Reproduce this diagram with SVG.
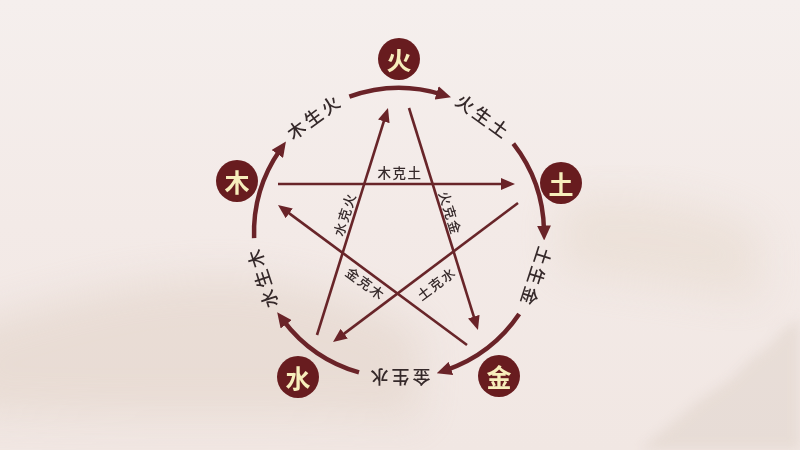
<svg xmlns="http://www.w3.org/2000/svg" width="800" height="450" viewBox="0 0 800 450">
  <defs>
    <linearGradient id="bg" x1="0" y1="0" x2="0" y2="1">
      <stop offset="0" stop-color="#f5efed"/>
      <stop offset="0.5" stop-color="#f3eae7"/>
      <stop offset="1" stop-color="#f1e7e3"/>
    </linearGradient>
    <filter id="blur" x="-30%" y="-30%" width="160%" height="160%">
      <feGaussianBlur stdDeviation="20"/>
    </filter>
    <filter id="blur2" x="-30%" y="-30%" width="160%" height="160%">
      <feGaussianBlur stdDeviation="6"/>
    </filter>
    <marker id="arcHead" markerUnits="userSpaceOnUse" markerWidth="15" markerHeight="14" refX="5" refY="7" orient="auto">
      <path d="M0,0 L15,7 L0,14 z" fill="#6a2328"/>
    </marker>
    <marker id="lineHead" markerUnits="userSpaceOnUse" markerWidth="14" markerHeight="12" refX="5" refY="6" orient="auto">
      <path d="M0,0 L14,6 L0,12 z" fill="#6a2328"/>
    </marker>
  </defs>
  <style>
    .ring { fill: none; stroke: #6a2328; stroke-width: 4.5; marker-end: url(#arcHead); }
    .star { fill: none; stroke: #682529; stroke-width: 2.6; marker-end: url(#lineHead); }
    .node { fill: #681c1f; }
    .ntext { font-family: "Noto Sans CJK SC", "Noto Sans", sans-serif; font-size: 25px; font-weight: 700; fill: #f7eebc; text-anchor: middle; dominant-baseline: central; }
    .rlabel { font-family: "Noto Sans CJK SC", "Noto Sans", sans-serif; font-size: 18px; font-weight: 500; fill: #35292a; text-anchor: middle; dominant-baseline: central; letter-spacing: 3px; }
    .slabel { font-family: "Noto Sans CJK SC", "Noto Sans", sans-serif; font-size: 13.5px; font-weight: 500; fill: #35292a; text-anchor: middle; dominant-baseline: central; letter-spacing: 1.5px; }
  </style>

  <!-- background -->
  <rect x="0" y="0" width="800" height="450" fill="url(#bg)"/>
  <g opacity="0.4">
    <path d="M-40,330 C60,300 160,270 260,280 C330,290 380,310 420,330 L420,420 C300,410 120,420 -40,410 z" fill="#dccbbd" filter="url(#blur)"/>
    <path d="M560,200 C620,190 700,200 760,230 L760,300 C700,290 620,280 560,270 z" fill="#e3d5c6" filter="url(#blur)"/>
    <path d="M800,320 L785,328 L770,345 L750,360 L730,380 L700,400 L670,425 L640,450 L800,450 z" fill="#dacdc2" filter="url(#blur2)"/>
  </g>

  <!-- connectors -->
  <g id="connectors">
    <!-- generating cycle (ring arcs) -->
    <path class="ring" d="M349.4,96.7 A145,145 0 0 1 441.4,94.3"/>
    <path class="ring" d="M513.3,143.7 A145,145 0 0 1 544.0,230.5"/>
    <path class="ring" d="M519.2,314.1 A145,145 0 0 1 446.2,370.1"/>
    <path class="ring" d="M359.0,372.4 A145,145 0 0 1 283.2,320.3"/>
    <path class="ring" d="M254.1,238.1 A145,145 0 0 1 280.2,149.8"/>

    <!-- controlling cycle (star lines) -->
    <path class="star" d="M278,184 L506,184"/>
    <path class="star" d="M409,108 L475.3,321.4"/>
    <path class="star" d="M518,203 L340.2,336.6"/>
    <path class="star" d="M317,335 L385.3,116.6"/>
    <path class="star" d="M467,345 L285.2,210.4"/>

    <!-- ring labels -->
    <text class="rlabel" transform="translate(399,233) rotate(-36) translate(0,-145)">木生火</text>
    <text class="rlabel" transform="translate(399,233) rotate(36) translate(0,-145)">火生土</text>
    <text class="rlabel" transform="translate(399,233) rotate(108) translate(0,-145)">土生金</text>
    <text class="rlabel" transform="translate(399,233) rotate(180) translate(0,-145)">金生水</text>
    <text class="rlabel" transform="translate(399,233) rotate(252) translate(0,-145)">水生木</text>

    <!-- star labels -->
    <text class="slabel" transform="translate(400,172)">木克土</text>
    <text class="slabel" transform="translate(344,214) rotate(-72.6)">水克火</text>
    <text class="slabel" transform="translate(451,213) rotate(72.7)">火克金</text>
    <text class="slabel" transform="translate(366,283) rotate(36.5)">金克木</text>
    <text class="slabel" transform="translate(436,283) rotate(-37)">土克水</text>
  </g>

  <!-- nodes -->
  <g id="node-huo">
    <circle class="node" cx="399" cy="59" r="21"/>
    <text class="ntext" x="399" y="59">火</text>
  </g>
  <g id="node-tu">
    <circle class="node" cx="561" cy="183" r="21"/>
    <text class="ntext" x="561" y="183">土</text>
  </g>
  <g id="node-jin">
    <circle class="node" cx="499" cy="376" r="21"/>
    <text class="ntext" x="499" y="376">金</text>
  </g>
  <g id="node-shui">
    <circle class="node" cx="298" cy="377" r="21"/>
    <text class="ntext" x="298" y="377">水</text>
  </g>
  <g id="node-mu">
    <circle class="node" cx="237" cy="181" r="21"/>
    <text class="ntext" x="237" y="181">木</text>
  </g>
</svg>
